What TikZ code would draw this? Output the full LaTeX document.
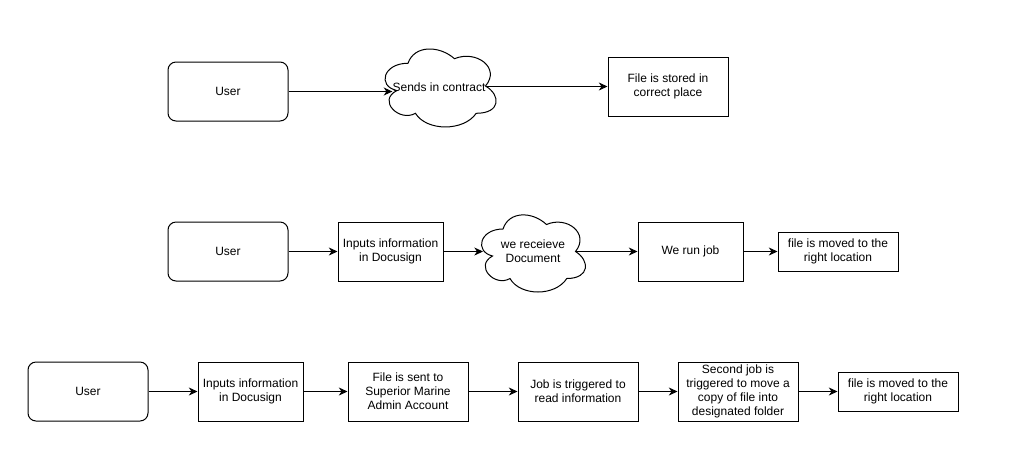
\documentclass[tikz,border=0pt]{standalone}
\usepackage{fontspec}
\setmainfont{Liberation Sans}
\usetikzlibrary{arrows.meta}

% cloud outline in a unit box centred on the origin
\newcommand\cloudoutline[3]{%
  \draw[cloudline, shift={(#1)}, xscale=#2, yscale=#3]
    (-0.25,-0.25) .. controls (-0.45,-0.25) and (-0.5,0) .. (-0.34,0.05)
    .. controls (-0.5,0.16) and (-0.32,0.4) .. (-0.19,0.3)
    .. controls (-0.1,0.5) and (0.2,0.5) .. (0.3,0.3)
    .. controls (0.5,0.3) and (0.5,0.1) .. (0.375,0)
    .. controls (0.5,-0.2) and (0.3,-0.4) .. (0.125,-0.3)
    .. controls (0,-0.45) and (-0.2,-0.45) .. (-0.25,-0.25) -- cycle;}

\begin{document}
\begin{tikzpicture}[x=0.75pt, y=-0.75pt,
  every node/.style={font=\fontsize{9}{10.5}\selectfont, align=center, inner sep=0pt},
  proc/.style={draw, line width=0.75pt, minimum height=44.25pt},
  wide/.style={minimum width=90pt},
  narrow/.style={minimum width=78.75pt},
  short/.style={minimum height=29.25pt},
  actor/.style={proc, wide, rounded corners=6pt},
  cloudline/.style={line width=0.75pt},
  arr/.style={line width=0.75pt, -{Stealth[length=6.5pt, width=6pt, inset=2pt]}}]

\useasboundingbox (0,0) rectangle (1027,472);

% ---- first flow ----
\node[actor] (u1) at (228,91.5) {User};
\node (c1) at (439,87) {Sends in contract};
\cloudoutline{439,86}{124}{91}
\node[proc, wide] (f1) at (668,86.5) {File is stored in\\correct place};

\draw[arr] (u1.east) -- (u1.east -| c1.west);
\draw[arr] (c1.east |- f1.west) -- (f1.west);

% ---- second flow ----
\node[actor] (u2) at (228,251.5) {User};
\node[proc, narrow] (i2) at (390.5,251.5) {Inputs information\\in Docusign};
\node (c2) at (533,251.5) {we receieve\\Document};
\cloudoutline{532,251.5}{116}{90}
\path (c2.center) +(-50,0) coordinate (c2in) +(43,0) coordinate (c2out);
\node[proc, narrow] (j2) at (690.5,251.5) {We run job};
\node[proc, wide, short] (m2) at (838,251.5) {file is moved to the\\right location};

\draw[arr] (u2.east) -- (i2.west);
\draw[arr] (i2.east) -- (c2in);
\draw[arr] (c2out) -- (j2.west);
\draw[arr] (j2.east) -- (m2.west);

% ---- third flow ----
\node[actor] (u3) at (88,391.5) {User};
\node[proc, narrow] (i3) at (250.5,391.5) {Inputs information\\in Docusign};
\node[proc, wide] (s3) at (408,391.5) {File is sent to\\Superior Marine\\Admin Account};
\node[proc, wide] (t3) at (578,391.5) {Job is triggered to\\read information};
\node[proc, wide] (d3) at (738,391.5) {Second job is\\triggered to move a\\copy of file into\\designated folder};
\node[proc, wide, short] (m3) at (898,391.5) {file is moved to the\\right location};

\draw[arr] (u3.east) -- (i3.west);
\draw[arr] (i3.east) -- (s3.west);
\draw[arr] (s3.east) -- (t3.west);
\draw[arr] (t3.east) -- (d3.west);
\draw[arr] (d3.east) -- (m3.west);
\end{tikzpicture}
\end{document}
